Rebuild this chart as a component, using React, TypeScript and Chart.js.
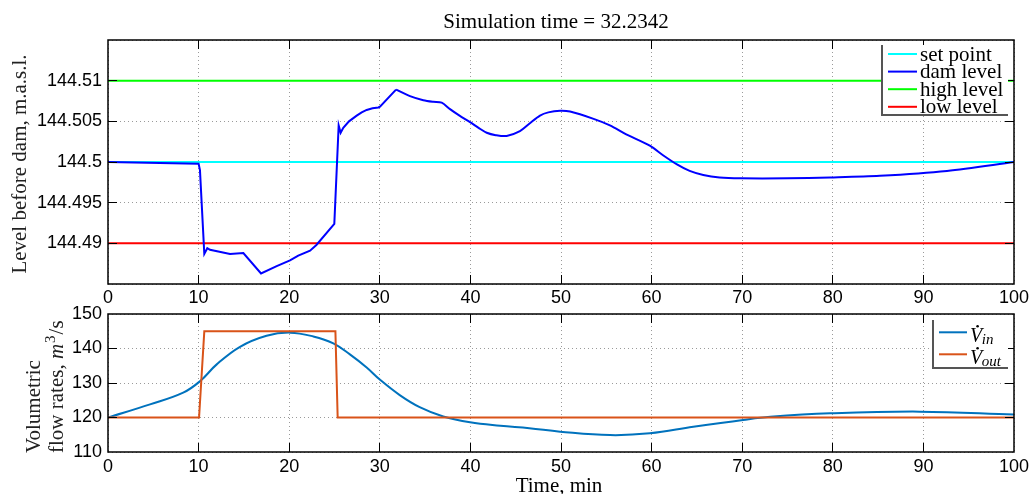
import React, { useEffect, useRef } from 'react';
import { Chart, registerables } from 'chart.js';

Chart.register(...registerables);

// ---------- data ----------
const timeTicks = [0, 10, 20, 30, 40, 50, 60, 70, 80, 90, 100];
const levelTicks = [144.49, 144.495, 144.5, 144.505, 144.51];
const levelLimits = [144.485, 144.515];
const flowTicks = [110, 120, 130, 140, 150];

const setPoint = 144.5;
const highLevel = 144.51;
const lowLevel = 144.49;

const damTime = [
  0, 10.0, 10.15, 10.63, 10.96, 11.26, 13.47, 14.94, 16.89, 18.62, 20.09, 21.0, 22.3, 23.0,
  24.98, 25.46, 25.68, 25.97, 26.6, 27.45, 28.0, 28.55, 29.2, 29.84, 30.02, 31.79, 33.33,
  34.8, 35.9, 36.83, 37.75, 38.8, 39.96, 40.9, 41.8, 42.8, 44.0, 45.47, 46.5, 47.68, 48.6,
  49.9, 51.0, 53.6, 55.4, 57.2, 59.8, 61.3, 62.8, 64.2, 65.7, 67.5, 69.8, 75.0, 79.7, 85.2,
  92.6, 100,
];
const damLevel = [
  144.5, 144.4998, 144.499, 144.4887, 144.4894, 144.4892, 144.4887, 144.4888, 144.4863,
  144.4872, 144.4879, 144.4885, 144.4891, 144.4898, 144.4924, 144.5045, 144.5036, 144.5042,
  144.505, 144.5057, 144.5061, 144.5064, 144.5066, 144.5067, 144.5068, 144.5089, 144.5081,
  144.5076, 144.5074, 144.5073, 144.5065, 144.5057, 144.5049, 144.5042, 144.5036, 144.5033,
  144.5032, 144.5038, 144.5047, 144.5057, 144.5061, 144.5063, 144.5062, 144.5053, 144.5045,
  144.5034, 144.502, 144.5008, 144.4997, 144.4989, 144.4984, 144.4981, 144.498, 144.498,
  144.4981, 144.4983, 144.4989, 144.5,
];
const damSharpUntil = 31.79; // kinked part of the record (drawn with straight segments)

const inflowTime = [
  0, 4.64, 8.3, 10.15, 12, 14.57, 17.5, 20.1, 22.66, 24.87, 26.7, 28.55, 30.0, 32.2, 34.4,
  37.0, 39.96, 43.3, 46.5, 49.9, 55.4, 59.8, 64.6, 70.1, 73.1, 79.7, 89.6, 100,
];
const inflow = [
  120, 123.8, 127.2, 130.5, 135.4, 140.5, 143.7, 144.6, 143.5, 141.5, 138.3, 134.5, 131.0,
  126.5, 123.0, 120.3, 118.6, 117.6, 116.9, 115.9, 114.9, 115.4, 117.3, 119.3, 120.2, 121.2,
  121.7, 120.9,
];
const outflowTime = [0, 10.05, 10.63, 25.1, 25.35, 100];
const outflow = [120, 120, 145, 145, 120, 120];

const levelLegend = ['set point', 'dam level', 'high level', 'low level'];
const levelColors = ['#00ffff', '#0000ff', '#00ff00', '#ff0000'];
const flowLegend = [['V', 'in'], ['V', 'out']];
const flowColors = ['#0072bd', '#d95319'];

// ---------- styles ----------
const serif = '"Liberation Serif", "Times New Roman", serif';
const sans = '"Liberation Sans", Arial, sans-serif';
const gridColor = '#9a9a9a';
const TICK_LEN = 9;

const pts = (xs: number[], ys: number[]) => xs.map((x, i) => ({ x, y: ys[i] }));
const near = (a: number, b: number) => Math.abs(a - b) < 1e-9;

function xScale(padding: number) {
  return {
    type: 'linear',
    min: 0,
    max: 100,
    afterBuildTicks: (s: any) => {
      s.ticks = timeTicks.map((v) => ({ value: v }));
    },
    afterFit: (s: any) => {
      s.height = 30;
      s.paddingLeft = 0;
      s.paddingRight = 0;
    },
    ticks: {
      font: { family: sans, size: 18 },
      color: '#000',
      padding,
      maxRotation: 0,
      autoSkip: false,
      callback: (v: any) => String(v),
    },
    grid: { color: gridColor, lineWidth: 1, drawTicks: false },
    border: { display: false, dash: [1, 3] },
  };
}

function yScale(min: number, max: number, tickVals: number[], labelVals: number[]) {
  return {
    type: 'linear',
    min,
    max,
    afterBuildTicks: (s: any) => {
      s.ticks = tickVals.map((v) => ({ value: v }));
    },
    afterFit: (s: any) => {
      s.width = 108;
      s.paddingTop = 0;
      s.paddingBottom = 0;
    },
    ticks: {
      font: { family: sans, size: 18 },
      color: '#000',
      padding: 6,
      autoSkip: false,
      callback: (v: any) =>
        labelVals.some((t) => near(t, v)) ? String(Number(Number(v).toFixed(3))) : '',
    },
    grid: { color: gridColor, lineWidth: 1, drawTicks: false },
    border: { display: false, dash: [1, 3] },
  };
}

const align = (p: number) => Math.round(p - 0.5) + 0.5;

function drawFrame(chart: any, yTickVals: number[]) {
  const { ctx, chartArea: a, scales } = chart;
  ctx.save();
  ctx.strokeStyle = '#000';
  ctx.lineWidth = 1;
  ctx.setLineDash([]);
  ctx.beginPath();
  timeTicks.slice(1, -1).forEach((t) => {
    const px = align(scales.x.getPixelForValue(t));
    ctx.moveTo(px, a.top);
    ctx.lineTo(px, a.top + TICK_LEN);
    ctx.moveTo(px, a.bottom);
    ctx.lineTo(px, a.bottom - TICK_LEN);
  });
  yTickVals.forEach((v) => {
    const py = align(scales.y.getPixelForValue(v));
    ctx.moveTo(a.left, py);
    ctx.lineTo(a.left + TICK_LEN, py);
    ctx.moveTo(a.right, py);
    ctx.lineTo(a.right - TICK_LEN, py);
  });
  ctx.stroke();
  ctx.lineWidth = 1.5;
  ctx.strokeRect(a.left, a.top, a.right - a.left, a.bottom - a.top);
  ctx.restore();
}

function legendBox(ctx: CanvasRenderingContext2D, x0: number, y0: number, x1: number, y1: number) {
  ctx.fillStyle = '#fff';
  ctx.fillRect(x0, y0, x1 - x0, y1 - y0);
  ctx.strokeStyle = '#555';
  ctx.lineWidth = 2;
  ctx.beginPath();
  ctx.moveTo(x0, y0);
  ctx.lineTo(x0, y1);
  ctx.lineTo(x1, y1);
  ctx.stroke();
}

const levelPlugin = {
  id: 'levelDecor',
  afterDraw(chart: any) {
    const ctx: CanvasRenderingContext2D = chart.ctx;
    drawFrame(chart, levelTicks);
    ctx.save();
    ctx.fillStyle = '#000';
    ctx.font = `21px ${serif}`;
    ctx.textAlign = 'center';
    ctx.textBaseline = 'alphabetic';
    ctx.fillText('Simulation time = 32.2342', 556, 28);
    ctx.save();
    ctx.translate(26, 164);
    ctx.rotate(-Math.PI / 2);
    ctx.fillStyle = '#222';
    ctx.fillText('Level before dam, m.a.s.l.', 0, 0);
    ctx.restore();
    legendBox(ctx, 882, 45, 1008, 115);
    ctx.textAlign = 'left';
    levelLegend.forEach((label, i) => {
      const y = 54 + i * 17.6;
      ctx.strokeStyle = levelColors[i];
      ctx.lineWidth = 2;
      ctx.beginPath();
      ctx.moveTo(888, y);
      ctx.lineTo(917, y);
      ctx.stroke();
      ctx.fillStyle = '#000';
      ctx.font = `21px ${serif}`;
      ctx.fillText(label, 920, y + 6.5);
    });
    ctx.restore();
  },
};

const flowPlugin = {
  id: 'flowDecor',
  afterDraw(chart: any) {
    const ctx: CanvasRenderingContext2D = chart.ctx;
    drawFrame(chart, flowTicks.slice(1, -1));
    ctx.save();
    ctx.fillStyle = '#000';
    ctx.textBaseline = 'alphabetic';
    ctx.font = `21px ${serif}`;
    ctx.textAlign = 'center';
    ctx.fillText('Time, min', 559, 492);
    ctx.textAlign = 'left';
    ctx.fillStyle = '#222';
    ctx.save();
    ctx.translate(40, 453);
    ctx.rotate(-Math.PI / 2);
    ctx.fillText('Volumetric', 0, 0);
    ctx.restore();
    ctx.save();
    ctx.translate(63, 453);
    ctx.rotate(-Math.PI / 2);
    let x = 0;
    ctx.font = `21px ${serif}`;
    ctx.fillText('flow rates, ', x, 0);
    x += ctx.measureText('flow rates, ').width;
    ctx.font = `italic 21px ${serif}`;
    ctx.fillText('m', x, 0);
    x += ctx.measureText('m').width + 1;
    ctx.font = `15px ${serif}`;
    ctx.fillText('3', x, -8);
    x += ctx.measureText('3').width + 1;
    ctx.font = `21px ${serif}`;
    ctx.fillText('/s', x, 0);
    ctx.restore();
    legendBox(ctx, 933, 320, 1008, 368);
    flowLegend.forEach(([main, sub], i) => {
      const y = 332.3 + i * 22;
      ctx.strokeStyle = flowColors[i];
      ctx.lineWidth = 2;
      ctx.beginPath();
      ctx.moveTo(939, y);
      ctx.lineTo(967, y);
      ctx.stroke();
      ctx.fillStyle = '#000';
      ctx.font = `italic 20px ${serif}`;
      const vx = 970;
      const base = y + 9.5;
      ctx.fillText(main, vx, base);
      const w = ctx.measureText(main).width;
      ctx.beginPath();
      ctx.arc(vx + w * 0.62, base - 15.5, 1.3, 0, Math.PI * 2);
      ctx.fill();
      ctx.font = `italic 15px ${serif}`;
      ctx.fillText(sub, vx + w - 0.5, base + 2.5);
    });
    ctx.restore();
  },
};

const baseOptions = {
  responsive: false,
  animation: false,
  devicePixelRatio: 1,
  plugins: {
    legend: { display: false },
    title: { display: false },
    tooltip: { enabled: false },
  },
  elements: { point: { radius: 0 }, line: { tension: 0 } },
  events: [],
};

export default function App() {
  const topRef = useRef<HTMLCanvasElement>(null);
  const botRef = useRef<HTMLCanvasElement>(null);

  useEffect(() => {
    const dam = pts(damTime, damLevel);
    const damSharp = dam.filter((p) => p.x <= damSharpUntil);
    const damSmooth = dam.filter((p) => p.x >= damSharpUntil);

    const top = new Chart(topRef.current as HTMLCanvasElement, {
      type: 'line',
      data: {
        datasets: [
          {
            label: levelLegend[1],
            data: damSharp,
            borderColor: levelColors[1],
            borderWidth: 2,
            tension: 0,
            order: 0,
          },
          {
            label: levelLegend[1],
            data: damSmooth,
            borderColor: levelColors[1],
            borderWidth: 2,
            tension: 0.3,
            order: 0,
          },
          {
            label: levelLegend[0],
            data: pts([0, 100], [setPoint, setPoint]),
            borderColor: levelColors[0],
            borderWidth: 2,
            order: 1,
          },
          {
            label: levelLegend[2],
            data: pts([0, 100], [highLevel, highLevel]),
            borderColor: levelColors[2],
            borderWidth: 2,
            order: 1,
          },
          {
            label: levelLegend[3],
            data: pts([0, 100], [lowLevel, lowLevel]),
            borderColor: levelColors[3],
            borderWidth: 2,
            order: 1,
          },
        ],
      },
      options: {
        ...baseOptions,
        layout: { padding: { left: 0, right: 19, top: 40, bottom: 180 } },
        scales: {
          x: xScale(3),
          y: yScale(levelLimits[0], levelLimits[1], [levelLimits[0], ...levelTicks, levelLimits[1]], levelTicks),
        },
      } as any,
      plugins: [levelPlugin],
    });

    const bot = new Chart(botRef.current as HTMLCanvasElement, {
      type: 'line',
      data: {
        datasets: [
          {
            label: 'Vout',
            data: pts(outflowTime, outflow),
            borderColor: flowColors[1],
            borderWidth: 2,
            tension: 0,
            order: 0,
          },
          {
            label: 'Vin',
            data: pts(inflowTime, inflow),
            borderColor: flowColors[0],
            borderWidth: 2,
            tension: 0.4,
            order: 1,
          },
        ],
      },
      options: {
        ...baseOptions,
        layout: { padding: { left: 0, right: 19, top: 314, bottom: 12 } },
        scales: {
          x: xScale(4),
          y: yScale(flowTicks[0], flowTicks[flowTicks.length - 1], flowTicks, flowTicks),
        },
      } as any,
      plugins: [flowPlugin],
    });

    return () => {
      top.destroy();
      bot.destroy();
    };
  }, []);

  const cs: React.CSSProperties = { position: 'absolute', left: 0, top: 0 };
  return (
    <div style={{ position: 'absolute', left: 0, top: 0, width: 1033, height: 494, background: '#fff' }}>
      <canvas ref={topRef} width={1033} height={494} style={cs} />
      <canvas ref={botRef} width={1033} height={494} style={cs} />
    </div>
  );
}
